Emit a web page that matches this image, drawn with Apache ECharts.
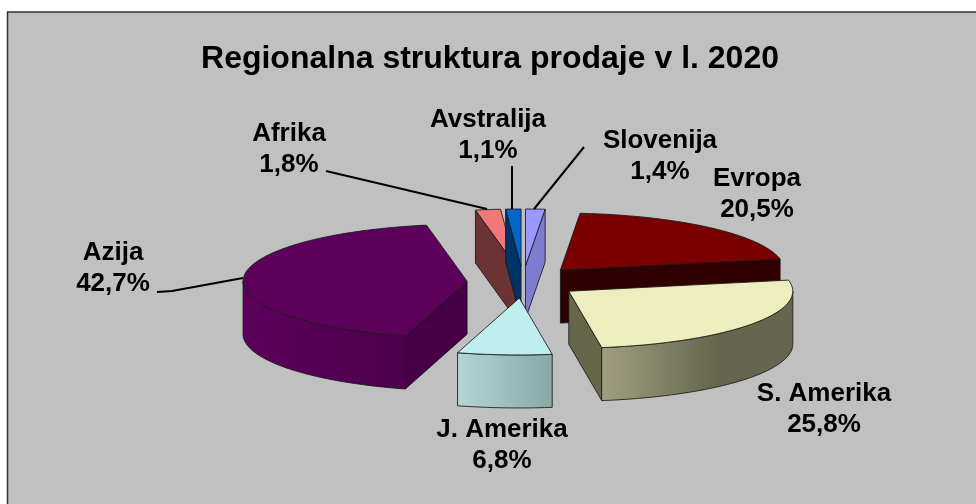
<!DOCTYPE html>
<html>
<head>
<meta charset="utf-8">
<style>html,body{margin:0;padding:0;background:#fff}#c{width:976px;height:504px}</style>
<script src="https://cdn.jsdelivr.net/npm/echarts@6/dist/echarts.min.js"></script>
</head>
<body>
<div id="c"></div>
<script>
var categories = ['Slovenija', 'Evropa', 'S. Amerika', 'J. Amerika', 'Azija', 'Afrika', 'Avstralija'];
var shares = [1.4, 20.5, 25.8, 6.8, 42.7, 1.8, 1.1];

var topColors = ['#9999FF', '#7A0000', '#EDEDBD', '#BEEEEE', '#5C005C', '#F07878', '#0066CC'];
var faceColors = ['#7C7CD0', '#300000', '#66664A', '#88A8A8', '#470047', '#6B3333', '#003366'];
var wallLight = ['#7C7CD0', '#300000', '#A0A080', '#B4D6D6', '#5C005C', '#6B3333', '#003366'];
var wallDark = ['#7C7CD0', '#300000', '#66664E', '#88A8A8', '#4C004C', '#6B3333', '#003366'];
var wallMid = [0.5, 0.5, 0.6, 1, 1, 0.5, 0.5];

var drawOrder = [5, 6, 0, 1, 4, 2, 3];
var labelAt = [[660, 156], [757, 194], [824, 409], [502, 445], [113, 268], [289, 149], [488, 135]];
var leaders = [
  [[584, 147], [534, 209]],
  null,
  null,
  null,
  [[157, 292], [172, 291], [243, 278]],
  [[326, 171], [487, 209]],
  [[512, 166], [512, 209]]
];

var CX = 523, CY = 282, RX = 224, RY = 57, DEPTH = 53, EXPLODE_X = 56, EXPLODE_Y = 16;
var LINE = 'rgba(25,25,25,0.85)';

var total = shares.reduce(function (a, b) { return a + b; }, 0);
var starts = [], ends = [];
shares.reduce(function (acc, v, i) {
  starts[i] = acc / total * 360;
  ends[i] = (acc + v) / total * 360;
  return acc + v;
}, 0);

function rad(d) { return d * Math.PI / 180; }

function renderSlice(params, api) {
  var i = api.value(0);
  var a0 = starts[i], a1 = ends[i], mid = (a0 + a1) / 2;
  var ox = CX + EXPLODE_X * Math.sin(rad(mid));
  var oy = CY - EXPLODE_Y * Math.cos(rad(mid));
  function pt(a, dy) {
    return [ox + RX * Math.sin(rad(a)), oy - RY * Math.cos(rad(a)) + (dy || 0)];
  }
  function arc(from, to, dy) {
    var out = [], n = Math.max(2, Math.ceil(Math.abs(to - from)));
    for (var k = 0; k <= n; k++) out.push(pt(from + (to - from) * k / n, dy));
    return out;
  }
  var children = [];
  function radialFace(a) {
    var r = pt(a);
    children.push({
      type: 'polygon',
      shape: { points: [[ox, oy], r, [r[0], r[1] + DEPTH], [ox, oy + DEPTH]] },
      style: { fill: faceColors[i], stroke: LINE, lineWidth: 1 }
    });
  }
  if (Math.sin(rad(a0)) < -1e-6) radialFace(a0);
  if (Math.sin(rad(a1)) > 1e-6) radialFace(a1);

  var w0 = Math.max(a0, 90), w1 = Math.min(a1, 270);
  if (w1 > w0) {
    var upper = arc(w0, w1, 0), lower = arc(w1, w0, DEPTH);
    children.push({
      type: 'polygon',
      shape: { points: upper.concat(lower) },
      style: {
        fill: new echarts.graphic.LinearGradient(0, 0, 1, 0, [
          { offset: 0, color: wallLight[i] },
          { offset: wallMid[i], color: wallDark[i] },
          { offset: 1, color: wallDark[i] }
        ]),
        stroke: LINE, lineWidth: 1
      }
    });
  }
  children.push({
    type: 'polygon',
    shape: { points: [[ox, oy]].concat(arc(a0, a1, 0)) },
    style: { fill: topColors[i], stroke: LINE, lineWidth: 1 }
  });
  return { type: 'group', children: children };
}

function renderLabel(params, api) {
  var i = api.value(0);
  var children = [{
    type: 'text',
    style: {
      x: labelAt[i][0], y: labelAt[i][1],
      text: categories[i] + '\n' + shares[i].toFixed(1).replace('.', ',') + '%',
      fill: '#000', font: 'bold 26px "Liberation Sans", Arial, sans-serif',
      align: 'center', verticalAlign: 'middle', lineHeight: 31
    }
  }];
  if (leaders[i]) {
    children.push({
      type: 'polyline',
      shape: { points: leaders[i] },
      style: { fill: null, stroke: '#000', lineWidth: 2 }
    });
  }
  return { type: 'group', children: children };
}

var chart = echarts.init(document.getElementById('c'), null, { renderer: 'canvas' });
chart.setOption({
  animation: false,
  backgroundColor: '#fff',
  title: {
    text: 'Regionalna struktura prodaje v l. 2020',
    left: 485, top: 38, textAlign: 'center',
    textStyle: { color: '#000', fontFamily: '"Liberation Sans", Arial, sans-serif', fontWeight: 'bold', fontSize: 32 }
  },
  graphic: [{
    type: 'rect', z: -10, silent: true,
    shape: { x: 7.5, y: 12, width: 1100, height: 700 },
    style: { fill: '#C0C0C0', stroke: '#333', lineWidth: 1.5 }
  }],
  series: [
    { type: 'custom', coordinateSystem: 'none', silent: true, z: 2, renderItem: renderSlice, data: drawOrder.map(function (i) { return [i]; }) },
    { type: 'custom', coordinateSystem: 'none', silent: true, z: 3, renderItem: renderLabel, data: categories.map(function (c, i) { return [i]; }) }
  ]
});
</script>
</body>
</html>
